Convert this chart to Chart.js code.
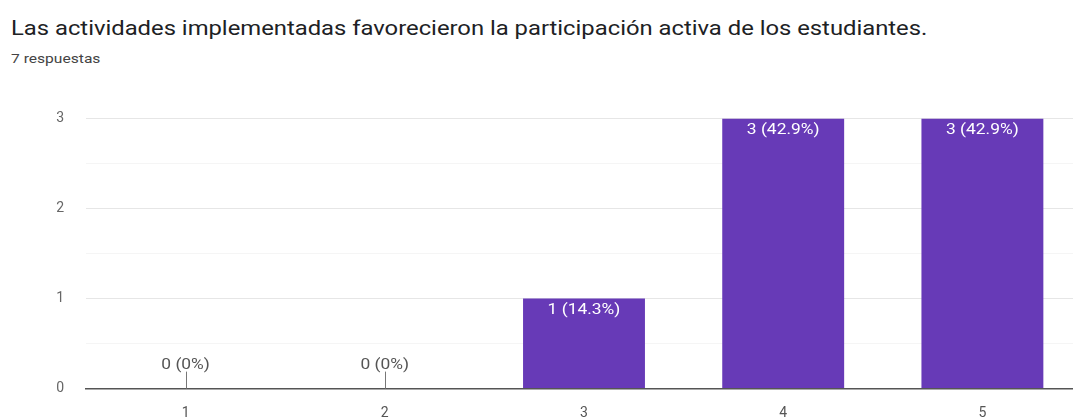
<!DOCTYPE html>
<html>
<head>
<meta charset="utf-8">
<script src="https://cdn.jsdelivr.net/npm/chart.js@4/dist/chart.umd.min.js"></script>
<style>
  html, body { margin: 0; padding: 0; background: #fff; overflow: hidden; }
  body { width: 1073px; height: 419px; position: relative; font-family: Roboto, Arial, sans-serif; }
  #title { position: absolute; left: 11px; top: 16px; font-size: 20px; color: #202124; white-space: nowrap;
           transform: scaleX(1.19); transform-origin: 0 0; }
  #sub { position: absolute; left: 11px; top: 51px; font-size: 13px; color: #444; white-space: nowrap;
         transform: scaleX(1.2); transform-origin: 0 0; }
  #wrap { position: absolute; left: 0; top: 88px; width: 1082px; height: 331px; }
</style>
</head>
<body>
<div id="title">Las actividades implementadas favorecieron la participación activa de los estudiantes.</div>
<div id="sub">7 respuestas</div>
<div id="wrap"><canvas id="barChart"></canvas></div>
<script>
let categories = ["1", "2", "3", "4", "5"];
let counts = [0, 0, 1, 3, 3];
let totalAnswers = 7;
let yTicks = [0, 1, 2, 3];

function pctLabel(v) {
    let p = Math.round(v / totalAnswers * 1000) / 10;
    return v + " (" + p + "%)";
}

// small helper: text a bit wider than the font gives
function wideText(ctx, text, x, y) {
    ctx.save();
    ctx.translate(x, y);
    ctx.scale(1.2, 1);
    ctx.fillText(text, 0, 0);
    ctx.restore();
}

// writes "n (x%)" on each bar, or a small stem + grey label when the count is 0
let barLabels = {
    id: 'barLabels',
    afterDatasetsDraw(chart) {
        let ctx = chart.ctx;
        let meta = chart.getDatasetMeta(0);
        ctx.save();
        ctx.font = "14.5px Roboto, Arial, sans-serif";
        ctx.textAlign = "center";
        ctx.textBaseline = "middle";
        meta.data.forEach((bar, i) => {
            let v = counts[i];
            if (v > 0) {
                ctx.fillStyle = "#ffffff";
                wideText(ctx, pctLabel(v), bar.x, bar.y + 12);
            } else {
                ctx.strokeStyle = "#777";
                ctx.lineWidth = 1;
                ctx.beginPath();
                ctx.moveTo(Math.round(bar.x) + 0.5, bar.base);
                ctx.lineTo(Math.round(bar.x) + 0.5, bar.base - 17);
                ctx.stroke();
                ctx.fillStyle = "#555";
                wideText(ctx, pctLabel(v), bar.x, bar.base - 23);
            }
        });
        ctx.restore();
    }
};

window.onload = function () {
    let ctx = document.getElementById("barChart").getContext("2d");
    window.myBar = new Chart(ctx, {
        type: 'bar',
        data: {
            labels: categories,
            datasets: [{
                data: counts,
                backgroundColor: '#673ab7',
                barPercentage: 0.612,
                categoryPercentage: 1
            }]
        },
        options: {
            responsive: true,
            maintainAspectRatio: false,
            animation: false,
            layout: { padding: { top: 15, right: 0, bottom: 0, left: 0 } },
            plugins: { legend: { display: false }, tooltip: { enabled: false } },
            scales: {
                x: {
                    grid: { display: false },
                    border: { display: true, color: '#555', width: 1.5 },
                    ticks: { color: '#555', font: { family: 'Roboto', size: 14 }, padding: 8 },
                    afterFit(scale) { scale.height = 30; }
                },
                y: {
                    min: 0,
                    max: 3,
                    border: { display: false },
                    grid: {
                        drawTicks: false,
                        color: c => Number.isInteger(c.tick.value) ? '#e6e6e6' : '#f5f5f5'
                    },
                    ticks: {
                        stepSize: 0.5,
                        padding: 22,
                        color: '#666',
                        font: { family: 'Roboto', size: 14 },
                        callback: v => yTicks.includes(v) ? v : ''
                    },
                    afterFit(scale) { scale.width = 86; }
                }
            }
        },
        plugins: [barLabels]
    });
};
</script>
</body>
</html>
